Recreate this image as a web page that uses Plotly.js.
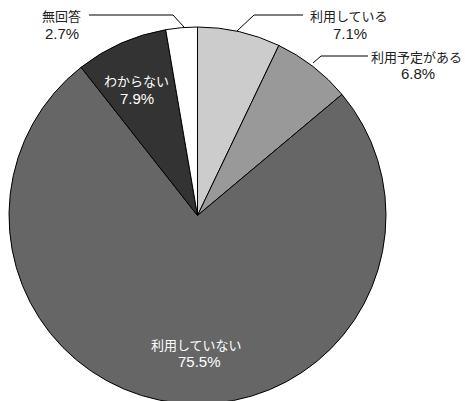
<!DOCTYPE html>
<html>
<head>
<meta charset="utf-8">
<script src="https://cdn.plot.ly/plotly-3.0.1.min.js"></script>
<style>
html,body{margin:0;padding:0;overflow:hidden;background:#fff;}
#chart{width:465px;height:405px;}
</style>
</head>
<body>
<div id="chart"></div>
<script>
const categories = ["利用している", "利用予定がある", "利用していない", "わからない", "無回答"];
const values = [7.1, 6.8, 75.5, 7.9, 2.7];
const colors = ["#cccccc", "#999999", "#666666", "#333333", "#ffffff"];

const W = 465, H = 405;
const px = x => x / W;
const py = y => 1 - y / H;

// label placement: [name x, name y, value x, value y, colour] in pixels
const labelPos = [
  [348.5, 15.5, 350, 33, "#222"],
  [416.5, 56, 418, 73.5, "#222"],
  [196.5, 344, 199, 361.5, "#fff"],
  [136.5, 81, 136.5, 98.5, "#fff"],
  [61.5, 15.5, 62, 33, "#222"]
];
const leaders = [
  [[237, 31], [254, 15], [303, 15]],
  [[313, 63], [321, 56], [368, 56]],
  null,
  null,
  [[89, 15], [173, 15], [184, 27]]
];

const annotations = [];
categories.forEach((c, i) => {
  const p = labelPos[i];
  annotations.push({
    xref: "paper", yref: "paper", x: px(p[0]), y: py(p[1]),
    xanchor: "center", yanchor: "middle", showarrow: false, borderpad: 0,
    text: c,
    font: {family: "Noto Sans CJK JP, sans-serif", size: 13, color: p[4]}
  });
  annotations.push({
    xref: "paper", yref: "paper", x: px(p[2]), y: py(p[3]),
    xanchor: "center", yanchor: "middle", showarrow: false, borderpad: 0,
    text: values[i].toFixed(1) + "%",
    font: {family: "Liberation Sans, Arial, sans-serif", size: 15, color: p[4]}
  });
});

const shapes = leaders.filter(l => l).map(l => ({
  type: "path", xref: "paper", yref: "paper",
  path: "M" + l.map(p => px(p[0]) + "," + py(p[1])).join(" L"),
  line: {color: "#000", width: 1}
}));

const trace = {
  type: "pie",
  labels: categories,
  values: values,
  sort: false,
  direction: "clockwise",
  rotation: 0,
  marker: {colors: colors, line: {color: "#000", width: 1}},
  textinfo: "none",
  hoverinfo: "label+percent",
  domain: {x: [9 / W, 386 / W], y: [1 / H, 378 / H]}
};

Plotly.newPlot("chart", [trace], {
  width: W, height: H,
  margin: {l: 0, r: 0, t: 0, b: 0},
  showlegend: false,
  paper_bgcolor: "#fff",
  annotations: annotations,
  shapes: shapes
}, {displayModeBar: false, staticPlot: true});
</script>
</body>
</html>
